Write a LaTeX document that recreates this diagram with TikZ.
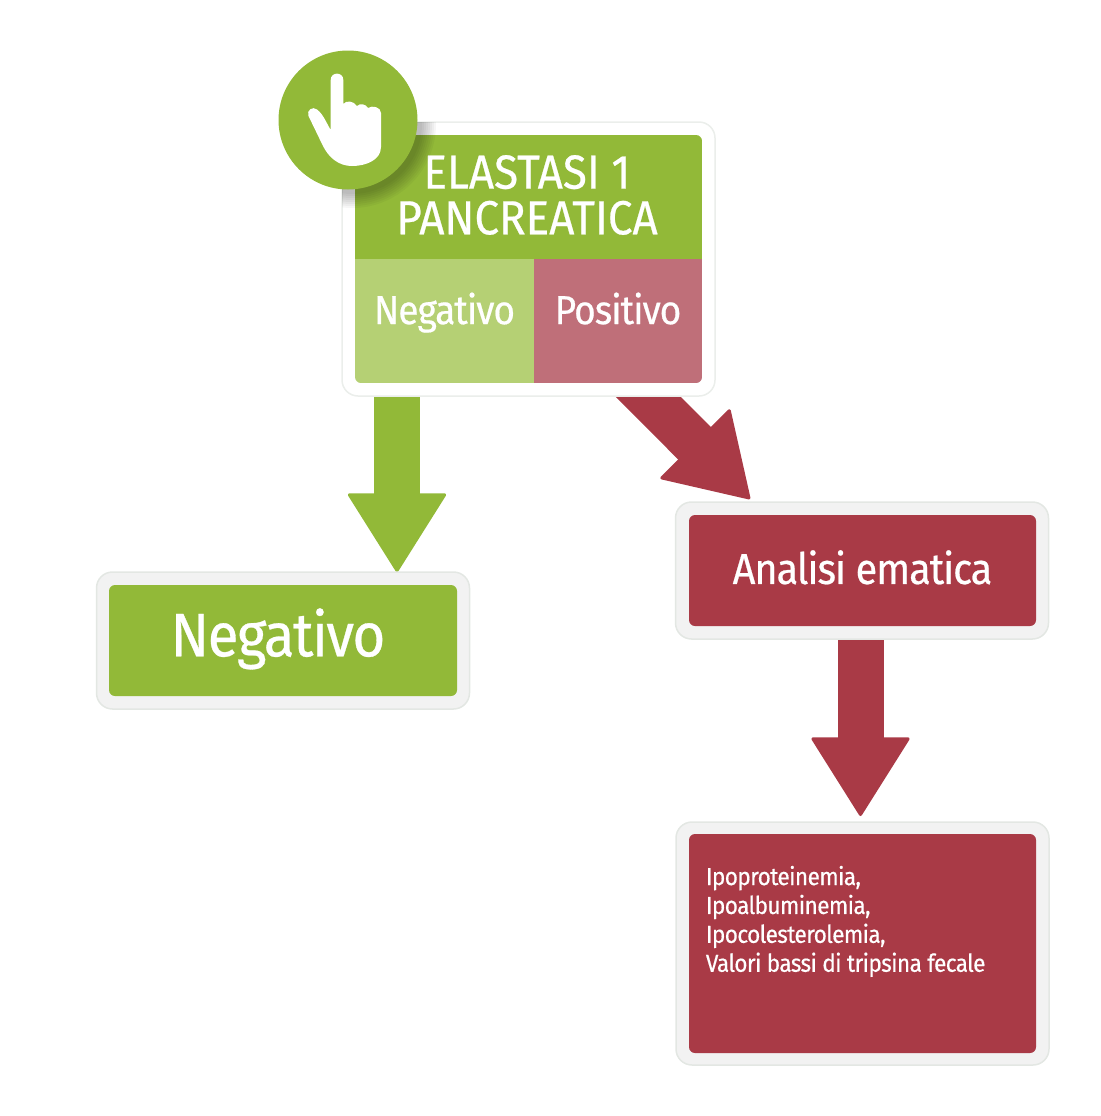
\documentclass[tikz,border=0pt]{standalone}
\usepackage{fontspec}
\setmainfont[FakeStretch=0.92,FakeBold=0.5]{Fira Sans}
\newfontfamily\tightfont[FakeStretch=0.92,FakeBold=0.5,LetterSpace=-2.5]{Fira Sans}
\usetikzlibrary{arrows.meta,backgrounds}

\definecolor{greenmain}{HTML}{92B938}
\definecolor{greenlight}{HTML}{B5D074}
\definecolor{redmain}{HTML}{A93A46}
\definecolor{redlight}{HTML}{BF6F79}
\definecolor{bandgrey}{HTML}{F2F2F2}
\definecolor{bandedge}{HTML}{E3E7E3}

\def\px{0.02cm}

\tikzset{
  band/.style={draw=bandedge,line width=1.5*\px,fill=bandgrey,rounded corners=16*\px,inner sep=0pt},
  panel/.style={rounded corners=6*\px,inner sep=0pt,text=white},
  cell/.style={inner sep=0pt,text=white},
  greenarrow/.style={draw=greenmain,line width=46*\px,-{Triangle[width=100*\px,length=80*\px,line width=3*\px,round]}},
  redarrow/.style={draw=redmain,line width=46*\px,-{Triangle[width=100*\px,length=80*\px,line width=3*\px,round]}}
}

\begin{document}
\begin{tikzpicture}[x=\px,y=-\px]
\useasboundingbox (0,0) rectangle (1100,1116);

% top box
\node[band,draw=bandedge!70!white,fill=white,minimum width=373*\px,minimum height=274*\px] (elastasiband) at (528.5,259) {};
\begin{scope}
\clip[rounded corners=6*\px] (355,135) rectangle (702,383);
\node[cell,fill=greenmain,minimum width=347*\px,minimum height=124*\px] (elastasi) at (528.5,197) {};
\node[cell,fill=greenlight,minimum width=179*\px,minimum height=124*\px,text height=12pt,text depth=8.5pt,font=\fontsize{23}{23}\selectfont] (cellneg) at (444.5,321) {\tightfont Negativo};
\node[cell,fill=redlight,minimum width=168*\px,minimum height=124*\px,text height=12pt,text depth=8.5pt,font=\fontsize{23}{23}\selectfont] (cellpos) at (618,321) {\tightfont Positivo};
\end{scope}
\node[cell,align=center,font=\fontsize{27.2}{26}\selectfont] (elastasitext) at (527,195) {ELASTASI 1\\PANCREATICA};

% lower boxes
\node[band,minimum width=373*\px,minimum height=137*\px] (negband) at (283,640.5) {};
\node[panel,fill=greenmain,minimum width=348*\px,minimum height=111*\px,text height=24pt,text depth=6pt,font=\fontsize{35}{36}\selectfont] (negativo) at (283,640.5) {\tightfont\hspace*{-0.2cm}Negativo};

\node[band,minimum width=373*\px,minimum height=137*\px] (analisiband) at (862,570.5) {};
\node[panel,fill=redmain,minimum width=347*\px,minimum height=111*\px,text height=20pt,text depth=4.7pt,font=\fontsize{24.6}{26}\selectfont] (analisi) at (862.5,570.5) {\tightfont Analisi ematica};

\node[band,minimum width=373*\px,minimum height=243*\px] (valoriband) at (862.5,943.5) {};
\node[panel,fill=redmain,minimum width=347*\px,minimum height=219*\px] (valori) at (862.5,943.5) {};
\node[anchor=north west,inner sep=0pt,text=white,align=left,font=\fontsize{14}{16.45}\selectfont] (valoritext) at (705.5,865.5) {\tightfont Ipoproteinemia,\\\tightfont Ipoalbuminemia,\\\tightfont Ipocolesterolemia,\\\tightfont Valori bassi di tripsina fecale};

% arrows, under the boxes
\coordinate (negtip) at (397,572);
\coordinate (diagstart) at (630,378.5);
\coordinate (diagtip) at (750,499);
\coordinate (valoritip) at (860.5,816);
\begin{scope}[on background layer]
\draw[greenarrow] (negtip |- elastasiband.south) -- (negtip);
\draw[redarrow] (diagstart) -- (diagtip);
\draw[redarrow] (valoritip |- analisiband.south) -- (valoritip);
\end{scope}

% circle with the hand
\begin{scope}
\clip (342,122) rectangle (715,396);
\foreach \r in {70,72,...,84}
  \fill[black,opacity=0.035] (352,124) circle[radius=\r];
\end{scope}
\node[circle,fill=greenmain,minimum size=139*\px,inner sep=0pt] (handcircle) at (348,120) {};
\fill[white] (330.7,80) .. controls (330.7,71.5) and (343.3,71.5) .. (343.3,80)
  -- (343.3,104) .. controls (346,100) and (354,101) .. (357,106)
  .. controls (360,103) and (366,104) .. (368,108)
  .. controls (372,105) and (381,107) .. (381,113)
  -- (381,147) .. controls (381,160) and (366,166) .. (352,166)
  .. controls (339,166) and (329,158) .. (323,146)
  -- (308.5,116) .. controls (306,110) and (313,106) .. (317,109.5)
  .. controls (323,114) and (326,122) .. (330.7,130)
  -- cycle;
\end{tikzpicture}
\end{document}
